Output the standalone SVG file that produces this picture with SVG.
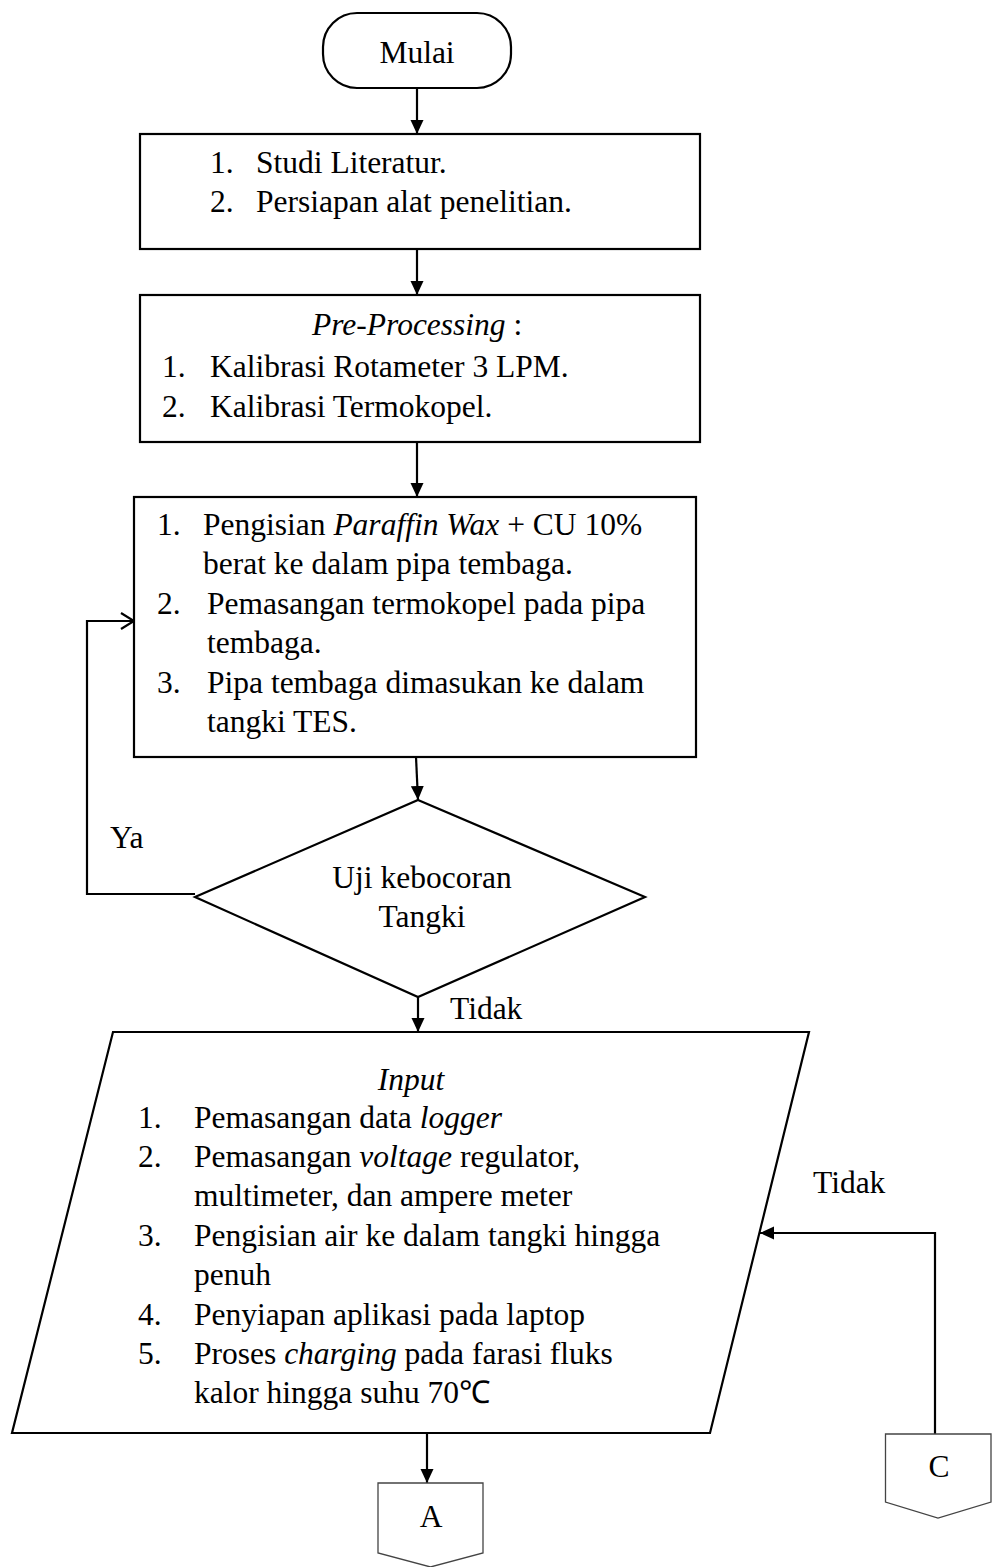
<svg xmlns="http://www.w3.org/2000/svg" width="992" height="1567" viewBox="0 0 992 1567">
<style>
text{font-family:"Liberation Serif","Times New Roman",serif;font-size:31.5px;fill:#000}
.c{text-anchor:middle}
.i{font-style:italic}
.sh{fill:#fff;stroke:#000;stroke-width:2.2}
.off{fill:#fff;stroke:#444;stroke-width:1.3}
.ln{fill:none;stroke:#000;stroke-width:2.2}
</style>
<defs>
<marker id="ah" markerUnits="userSpaceOnUse" markerWidth="14" markerHeight="14" refX="14" refY="7" orient="auto">
<path d="M0,0.5 L14,7 L0,13.5 Z" fill="#000"/>
</marker>
<marker id="oh" markerUnits="userSpaceOnUse" markerWidth="16" markerHeight="18" refX="14" refY="9" orient="auto">
<path d="M1,1 L14,9 L1,17" fill="none" stroke="#000" stroke-width="2.2"/>
</marker>
</defs>
<g id="connectors">
<path class="ln" d="M417,88 V134" marker-end="url(#ah)"/>
<path class="ln" d="M417,249 V295" marker-end="url(#ah)"/>
<path class="ln" d="M417,442 V497" marker-end="url(#ah)"/>
<path class="ln" d="M416,757 L418,800" marker-end="url(#ah)"/>
<path class="ln" d="M195,894 H87 V621 H134" marker-end="url(#oh)"/>
<path class="ln" d="M418,997 V1032" marker-end="url(#ah)"/>
<path class="ln" d="M427,1433 V1483" marker-end="url(#ah)"/>
<path class="ln" d="M935,1434 V1233 H760" marker-end="url(#ah)"/>
<text x="110" y="848">Ya</text>
<text x="450" y="1019">Tidak</text>
<text x="813" y="1193">Tidak</text>
</g>
<g id="start">
<rect class="sh" x="323" y="13" width="188" height="75" rx="34" ry="34"/>
<text class="c" x="417" y="63">Mulai</text>
</g>
<g id="box1">
<rect class="sh" x="140" y="134" width="560" height="115"/>
<text x="210" y="173">1.</text><text x="256" y="173">Studi Literatur.</text>
<text x="210" y="212">2.</text><text x="256" y="212">Persiapan alat penelitian.</text>
</g>
<g id="box2">
<rect class="sh" x="140" y="295" width="560" height="147"/>
<text x="312" y="335"><tspan class="i">Pre-Processing</tspan> :</text>
<text x="162" y="377">1.</text><text x="210" y="377">Kalibrasi Rotameter 3 LPM.</text>
<text x="162" y="417">2.</text><text x="210" y="417">Kalibrasi Termokopel.</text>
</g>
<g id="box3">
<rect class="sh" x="134" y="497" width="562" height="260"/>
<text x="157" y="535">1.</text><text x="203" y="535">Pengisian <tspan class="i">Paraffin Wax</tspan> + CU 10%</text>
<text x="203" y="574">berat ke dalam pipa tembaga.</text>
<text x="157" y="614">2.</text><text x="207" y="614">Pemasangan termokopel pada pipa</text>
<text x="207" y="653">tembaga.</text>
<text x="157" y="693">3.</text><text x="207" y="693">Pipa tembaga dimasukan ke dalam</text>
<text x="207" y="732">tangki TES.</text>
</g>
<g id="decision">
<polygon class="sh" points="418,800 645,897 418,997 195,897"/>
<text class="c" x="422" y="888">Uji kebocoran</text>
<text class="c" x="422" y="927">Tangki</text>
</g>
<g id="input">
<polygon class="sh" points="113,1032 809,1032 710,1433 12,1433"/>
<text class="c i" x="411" y="1090">Input</text>
<text x="138" y="1128">1.</text><text x="194" y="1128">Pemasangan data <tspan class="i">logger</tspan></text>
<text x="138" y="1167">2.</text><text x="194" y="1167">Pemasangan <tspan class="i">voltage</tspan> regulator,</text>
<text x="194" y="1206">multimeter, dan ampere meter</text>
<text x="138" y="1246">3.</text><text x="194" y="1246">Pengisian air ke dalam tangki hingga</text>
<text x="194" y="1285">penuh</text>
<text x="138" y="1325">4.</text><text x="194" y="1325">Penyiapan aplikasi pada laptop</text>
<text x="138" y="1364">5.</text><text x="194" y="1364">Proses <tspan class="i">charging</tspan> pada farasi fluks</text>
<text x="194" y="1403">kalor hingga suhu 70℃</text>
</g>
<g id="connA">
<path class="off" d="M378,1483 H483 V1553 L430.5,1567 L378,1553 Z"/>
<text class="c" x="431" y="1527">A</text>
</g>
<g id="connC">
<path class="off" d="M885.5,1434 H991 V1502 L938,1518 L885.5,1502 Z"/>
<text class="c" x="939" y="1477">C</text>
</g>
</svg>
